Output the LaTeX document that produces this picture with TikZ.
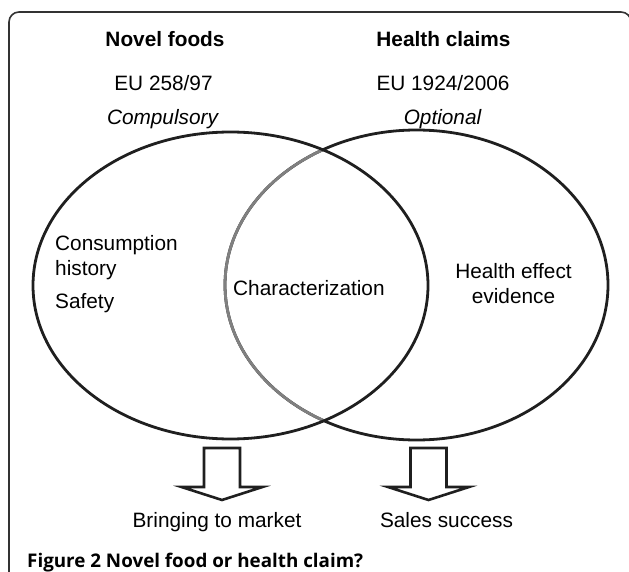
\documentclass[tikz,border=0pt]{standalone}
\usepackage{fontspec}
\setmainfont{Liberation Sans}
\newfontfamily\capfont{Open Sans}
\begin{document}
\begin{tikzpicture}[x=1pt,y=-1pt,
  txt/.style={font=\fontsize{20.8}{25}\selectfont, inner sep=0pt, anchor=base},
  hdr/.style={txt, font=\fontsize{20.8}{25}\selectfont\bfseries},
  itl/.style={txt, font=\fontsize{20.8}{25}\selectfont\itshape},
  ring/.style={line width=2.8pt, draw=black!88},
  inner/.style={line width=2.8pt, draw=black!50},
  blockarrow/.style={line width=2.6pt, draw=black!88, line join=miter},
  frameline/.style={line width=1.6pt, draw=black!80, rounded corners=10pt}]
\useasboundingbox (0,0) rectangle (629,572);
% frame (bottom and right side run off the picture)
\draw[frameline] (9,600) -- (9,12) -- (631,12) -- (631,600);
% ellipses
\coordinate (lc) at (230.5,285.5);
\coordinate (rc) at (416.5,285);
\draw[ring] (rc) ellipse [x radius=191.5pt, y radius=155pt];
\begin{scope}
  \clip (lc) ellipse [x radius=197.5pt, y radius=153.5pt];
  \draw[inner] (rc) ellipse [x radius=191.5pt, y radius=155pt];
\end{scope}
\draw[ring] (lc) ellipse [x radius=197.5pt, y radius=153.5pt];
% headers
\node[hdr] (nf) at (165,46.5) {Novel foods};
\node[hdr] (hc) at (443.5,46.5) {Health claims};
\node[txt] (eua) at (163.5,91) {EU 258/97};
\node[txt] (eub) at (443,91) {EU 1924/2006};
\node[itl] (comp) at (162.5,125) {Compulsory};
\node[itl] (opt) at (442.5,125) {Optional};
% inside texts
\node[txt, anchor=base west] (cons) at (55,250) {Consumption};
\node[txt, anchor=base west] (hist) at (55,275) {history};
\node[txt, anchor=base west] (safe) at (55,308) {Safety};
\node[txt, anchor=base west] (char) at (233,295) {Characterization};
\node[txt] (he) at (513.5,278) {Health effect};
\node[txt] (ev) at (513.5,303) {evidence};
% block arrows
\coordinate (la) at (222,448);
\coordinate (ra) at (428.5,448);
\foreach \a in {la,ra}{
  \draw[blockarrow] ([xshift=-18pt]\a) -- ([xshift=18pt]\a)
    -- ([xshift=18pt,yshift=-39pt]\a) -- ([xshift=40.5pt,yshift=-39pt]\a)
    -- ([yshift=-52pt]\a) -- ([xshift=-40.5pt,yshift=-39pt]\a)
    -- ([xshift=-18pt,yshift=-39pt]\a) -- cycle;
}
\node[txt] (mk) at (217,527) {Bringing to market};
\node[txt] (ss) at (446.5,527) {Sales success};
% caption
\node[inner sep=0pt, anchor=base west, font=\capfont\fontsize{18.8}{22}\selectfont\bfseries] (cap) at (27,567) {Figure 2 Novel food or health claim?};
\end{tikzpicture}
\end{document}
